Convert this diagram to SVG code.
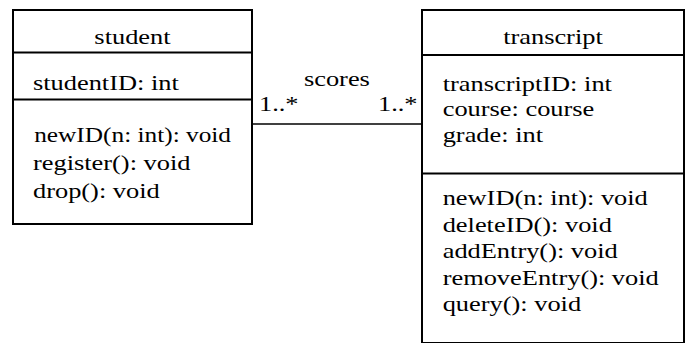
<svg xmlns="http://www.w3.org/2000/svg" width="687" height="343" viewBox="0 0 687 343">
  <style>
    .box { fill: #ffffff; stroke: #000000; stroke-width: 2; }
    .div { stroke: #000000; stroke-width: 2; }
    .conn { stroke: #000000; stroke-width: 1.6; fill: none; }
    text { font-family: "Liberation Serif", "Times New Roman", serif; font-size: 22px; fill: #000000; }
    .mid { text-anchor: middle; }
  </style>
  <rect width="687" height="343" fill="#ffffff"/>

  <!-- association between the two classes -->
  <g id="connectors">
    <line class="conn" x1="252" y1="124" x2="422" y2="124"/>
    <g transform="scale(1.2 1)">
      <text x="253.3" y="86.5">scores</text>
      <text x="215.8" y="111">1..*</text>
      <text x="315" y="111">1..*</text>
    </g>
  </g>

  <!-- class: student -->
  <g id="student">
    <rect class="box" x="13" y="10" width="239" height="214"/>
    <line class="div" x1="13" y1="52.5" x2="252" y2="52.5"/>
    <line class="div" x1="13" y1="99.5" x2="252" y2="99.5"/>
    <g transform="scale(1.2 1)">
      <text class="mid" x="110.4" y="44">student</text>
      <text x="27.5" y="90.5">studentID: int</text>
      <text x="28.5" y="142" textLength="164" lengthAdjust="spacingAndGlyphs">newID(n: int): void</text>
      <text x="27.5" y="170">register(): void</text>
      <text x="27.5" y="198">drop(): void</text>
    </g>
  </g>

  <!-- class: transcript -->
  <g id="transcript">
    <rect class="box" x="422" y="10" width="262" height="333"/>
    <line class="div" x1="422" y1="55" x2="684" y2="55"/>
    <line class="div" x1="422" y1="173.5" x2="684" y2="173.5"/>
    <g transform="scale(1.2 1)">
      <text class="mid" x="460.8" y="44">transcript</text>
      <text x="368.9" y="91">transcriptID: int</text>
      <text x="368.9" y="116.5">course: course</text>
      <text x="368.9" y="142">grade: int</text>
      <text x="368.9" y="205">newID(n: int): void</text>
      <text x="368.9" y="232">deleteID(): void</text>
      <text x="368.9" y="258.5">addEntry(): void</text>
      <text x="368.9" y="285">removeEntry(): void</text>
      <text x="368.9" y="311.5">query(): void</text>
    </g>
  </g>
</svg>
